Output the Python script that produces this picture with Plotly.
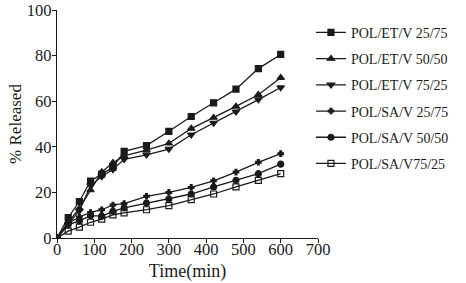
import plotly.graph_objects as go

time = [0, 30, 60, 90, 120, 150, 180, 240, 300, 360, 420, 480, 540, 600]

et_25_75 = [0, 9, 16, 25, 28, 31, 38, 40.5, 46.8, 53.3, 59.3, 65.3, 74.3, 80.5]
et_50_50 = [0, 7, 13, 21, 29, 33, 36, 38.5, 41.5, 48, 52.8, 57.7, 62.8, 70.3]
et_75_25 = [0, 6, 12, 23, 27, 30, 34.5, 36.5, 39, 45.3, 50.4, 55.4, 60.7, 66]
sa_25_75 = [0, 6.5, 9.2, 11.2, 12.4, 14.5, 15.1, 18.3, 20, 22.2, 25.1, 28.9, 33.2, 37]
sa_50_50 = [0, 5.8, 7.5, 9.8, 9.6, 11.7, 13.2, 15.3, 17.1, 19.3, 22.4, 25.3, 28.2, 32.4]
sa_75_25 = [0, 3, 4.8, 6.9, 8.3, 10.1, 11, 12.4, 14.2, 16.8, 19.3, 22.4, 25.3, 28.2]

names = ["POL/ET/V 25/75", "POL/ET/V 50/50", "POL/ET/V 75/25",
         "POL/SA/V 25/75", "POL/SA/V 50/50", "POL/SA/V75/25"]
series = [et_25_75, et_50_50, et_75_25, sa_25_75, sa_50_50, sa_75_25]
symbols = ["square", "triangle-up", "triangle-down", "cross", "circle", "square-open"]
sizes = [6, 6.5, 6.5, 4.5, 6, 6]

fig = go.Figure()
for i, (n, s, sym, sz) in enumerate(zip(names, series, symbols, sizes)):
    fig.add_trace(go.Scatter(
        x=time, y=s, name=n, mode="lines+markers",
        legendgroup=f"g{i}",
        line=dict(color="#1a1a1a", width=1.3),
        marker=dict(symbol=sym, size=sz, color="#1a1a1a",
                    line=dict(color="#1a1a1a", width=1.2)),
    ))

font_family = "Liberation Serif"
fig.update_layout(
    width=466, height=283,
    margin=dict(l=57, r=148, t=10, b=45, autoexpand=False),
    paper_bgcolor="white", plot_bgcolor="white",
    font=dict(family=font_family, color="#1a1a1a", size=16),
    showlegend=True,
    legend=dict(
        x=0.973, xanchor="left", y=0.97, yanchor="top",
        font=dict(family=font_family, size=14, color="#1a1a1a"),
        tracegroupgap=5, itemwidth=30, bgcolor="rgba(0,0,0,0)",
    ),
    xaxis=dict(
        range=[0, 700], tickvals=[0, 100, 200, 300, 400, 500, 600, 700],
        showline=True, linecolor="#1a1a1a", linewidth=1.2,
        ticks="outside", ticklen=4, tickcolor="#1a1a1a",
        showgrid=False, zeroline=False, automargin=False,
        ticklabelstandoff=-8,
        title=dict(text="Time(min)", standoff=6, font=dict(size=18)),
        tickfont=dict(size=16.5),
    ),
    yaxis=dict(
        range=[0, 100], tickvals=[0, 20, 40, 60, 80, 100],
        showline=True, linecolor="#1a1a1a", linewidth=1.2,
        ticks="outside", ticklen=4, tickcolor="#1a1a1a",
        showgrid=False, zeroline=False, automargin=False,
        ticklabelstandoff=-3,
        title=dict(text="% Released", standoff=0, font=dict(size=17)),
        tickfont=dict(size=16.5),
    ),
)

fig.write_html(
    "out.html",
    config={"displayModeBar": False},
    post_script="document.body.style.margin='0';document.body.style.padding='0';",
)
